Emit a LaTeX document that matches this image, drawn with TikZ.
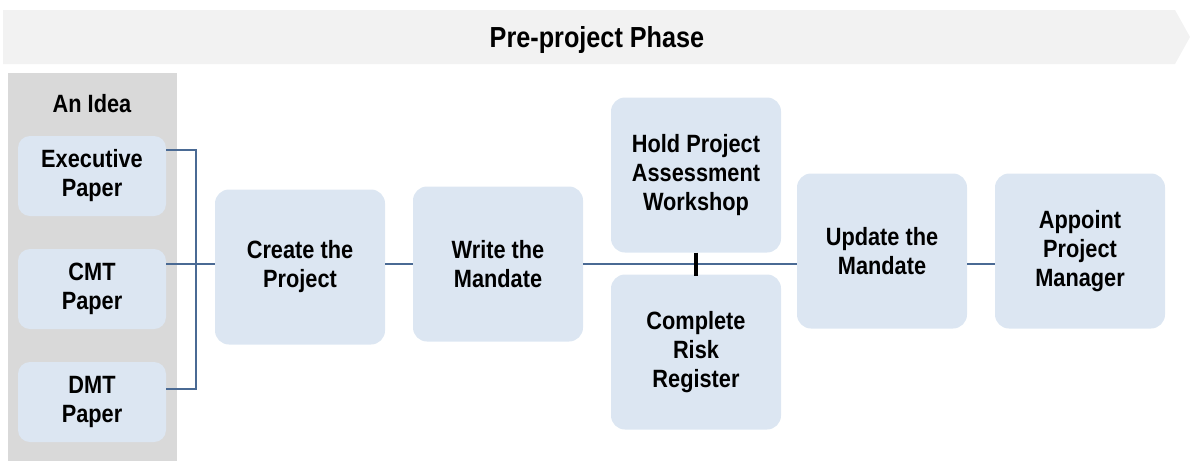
\documentclass[tikz,border=0pt]{standalone}
\usepackage{fontspec}
\setmainfont{Liberation Sans}[FakeStretch=0.87]
\usetikzlibrary{positioning}
\definecolor{boxblue}{HTML}{DCE6F2}
\definecolor{linkblue}{HTML}{4A6A94}
\definecolor{bandgray}{HTML}{F2F2F2}
\definecolor{colgray}{HTML}{D9D9D9}
\tikzstyle{task}=[rectangle,rounded corners=14pt,fill=boxblue,minimum width=170pt,minimum height=155pt,align=center,font=\bfseries\fontsize{25}{29}\selectfont]
\tikzstyle{paper}=[task,rounded corners=12pt,minimum width=148pt,minimum height=80pt]
\tikzstyle{link}=[draw=linkblue,line width=2pt]

\begin{document}
\begin{tikzpicture}[x=1pt,y=-1pt]
    \useasboundingbox (0,0) rectangle (1190,461);
    % phase band and idea column
    \fill[bandgray] (3,10) -- (1175,10) -- (1190,37) -- (1175,64) -- (3,64) -- cycle;
    \node[font=\bfseries\fontsize{29}{34}\selectfont] (phase) at (597,40) {Pre-project Phase};
    \fill[colgray] (8,73) rectangle (177,461);
    \node[font=\bfseries\fontsize{25}{29}\selectfont] (idea) at (92,104) {An Idea};
    \node[paper] (exec) at (92,176) {Executive\\Paper};
    \node[paper] (cmt) at (92,289) {CMT\\Paper};
    \node[paper] (dmt) at (92,402) {DMT\\Paper};
    % steps
    \node[task] (create) at (300,267) {Create the\\Project};
    \node[task] (write) at (498,264) {Write the\\Mandate};
    \node[task] (hold) at (696,175) {Hold Project\\Assessment\\Workshop};
    \node[task] (risk) at (696,352) {Complete\\Risk\\Register};
    \node[task] (update) at (882,251) {Update the\\Mandate};
    \node[task] (appoint) at (1080,251) {Appoint\\Project\\Manager};
    % connectors
    \coordinate (bustop) at (196,150);
    \coordinate (busbot) at (196,389);
    \draw[link] (exec.east |- bustop) -- (bustop) -- (busbot) -- (dmt.east |- busbot);
    \draw[link] (cmt.east |- write.west) -- (create.west |- write.west);
    \draw[link] (create.east |- write.west) -- (write.west);
    \draw[link] (write.east) -- (update.west |- write.east);
    \draw[link] (update.east |- write.east) -- (appoint.west |- write.east);
    \draw[line width=4pt] (hold.south) -- ([yshift=-2pt]risk.north);
\end{tikzpicture}
\end{document}
